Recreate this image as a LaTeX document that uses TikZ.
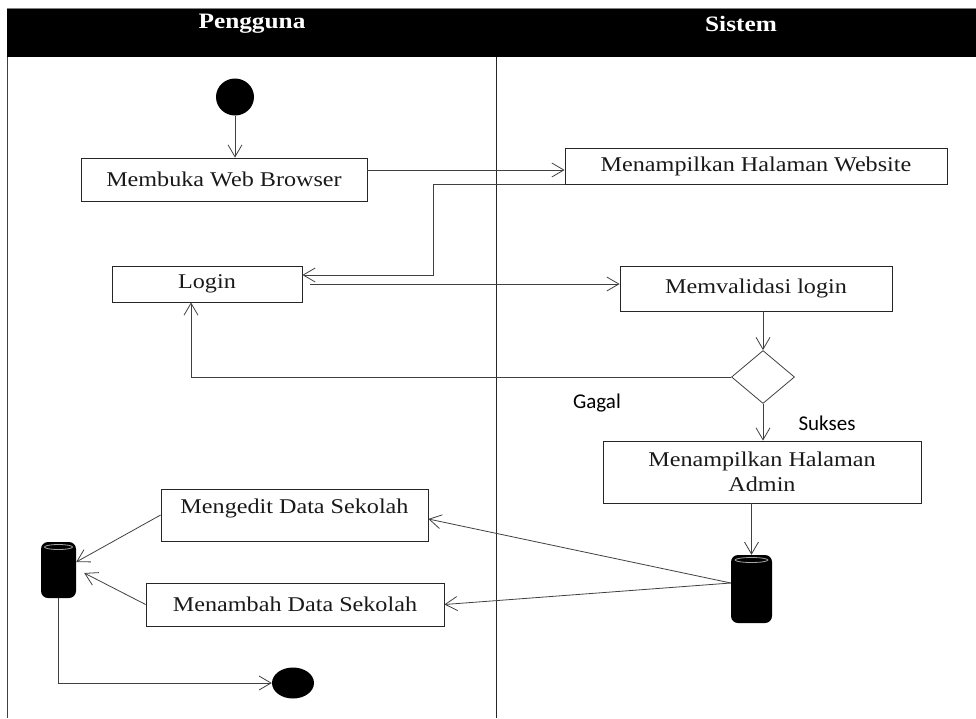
\documentclass[tikz,border=0pt]{standalone}
\usepackage{fontspec}
\setmainfont[FakeStretch=1.15]{Liberation Serif}
\newfontfamily\calibri{Carlito}
\usetikzlibrary{shapes.geometric,arrows.meta}
\begin{document}
\begin{tikzpicture}[x=1pt,y=-1pt,
    every node/.style={font=\fontsize{21}{25}\selectfont},
    act/.style={draw, thick, black!85, text=black!90, inner sep=0pt},
    arr/.style={draw=black!75, thick, -{Straight Barb[length=12pt,width=14pt]}},
    cyl/.style={fill=black, rounded corners=7pt, inner sep=0pt,
      path picture={\draw[gray!70, thick] ([yshift=-5pt]path picture bounding box.north) ellipse (0.4*#1 and 2.5pt);}}]
  \useasboundingbox (0,0) rectangle (976,718);
  \fill (7,8) rectangle (976,57);
  \draw[gray, thick] (7,8) -- (976,8);
  \draw[black!75, thick] (7,57) -- (7,718);
  \draw[black!85] (496,57) -- (496,718);
  \node[white, font=\fontsize{22}{26}\selectfont\bfseries] (pengguna) at (252,24) {Pengguna};
  \node[white, font=\fontsize{22}{26}\selectfont\bfseries] (sistem) at (741,24) {Sistem};

  \node[ellipse, fill, minimum width=38, minimum height=37, inner sep=0pt] (start) at (235,97) {};
  \node[act, minimum width=286, minimum height=43] (browser) at (224,179.5) {Membuka Web Browser};
  \node[act, minimum width=382, minimum height=36] (website) at (756,166) {Menampilkan Halaman Website};
  \node[act, minimum width=190, minimum height=36] (login) at (207,284) {Login};
  \node[act, minimum width=272, minimum height=45] (validasi) at (756,288.5) {Memvalidasi login};
  \node[diamond, draw=black!75, thick, minimum width=63, minimum height=53, inner sep=0pt] (cek) at (763,377) {};
  \node[font=\calibri\fontsize{21}{25}\selectfont] (gagal) at (597,403) {Gagal};
  \node[font=\calibri\fontsize{21}{25}\selectfont] (sukses) at (827,423) {Sukses};
  \node[act, minimum width=318, minimum height=62, align=center] (admin) at (762,472) {Menampilkan Halaman\\Admin};
  \node[cyl=41pt, minimum width=41, minimum height=68] (forkR) at (751.5,589) {};
  \node[act, minimum width=267, minimum height=52, text height=14pt, text depth=18pt, inner ysep=10pt] (edit) at (294.5,515) {Mengedit Data Sekolah};
  \node[act, minimum width=298, minimum height=43] (tambah) at (295,604.5) {Menambah Data Sekolah};
  \node[cyl=35pt, minimum width=35, minimum height=56] (forkL) at (58.5,570) {};
  \node[ellipse, fill, minimum width=42, minimum height=31, inner sep=0pt] (stop) at (293,683) {};

  \coordinate (b1) at ([yshift=9.5pt]browser.east);
  \coordinate (l1) at ([xshift=8pt]login.east);
  \coordinate (r1) at ([yshift=6pt]forkR.west);
  \draw[arr] (start.south) -- (start.south |- browser.north);
  \draw[arr] (b1) -- (b1 -| website.west);
  \draw[arr] (website.south west) -- ++(-131,0) |- ([yshift=9pt]login.east);
  \draw[arr] (l1) -- (l1 -| validasi.west);
  \draw[arr] (validasi.south -| cek.north) -- (cek.north);
  \draw[arr] (cek.west) -| ([xshift=-16pt]login.south);
  \draw[arr] (cek.south) -- (cek.south |- admin.north);
  \draw[arr] (forkR.north |- admin.south) -- (forkR.north);
  \draw[arr] (r1) -- ([yshift=-4pt]edit.east);
  \draw[arr] (r1) -- (tambah.east);
  \draw[arr] (edit.west) -- ([yshift=8pt]forkL.east);
  \draw[arr] (tambah.west) -- ([xshift=8pt,yshift=-3pt]forkL.east);
  \draw[arr] (forkL.south) |- (stop.west);
\end{tikzpicture}
\end{document}
